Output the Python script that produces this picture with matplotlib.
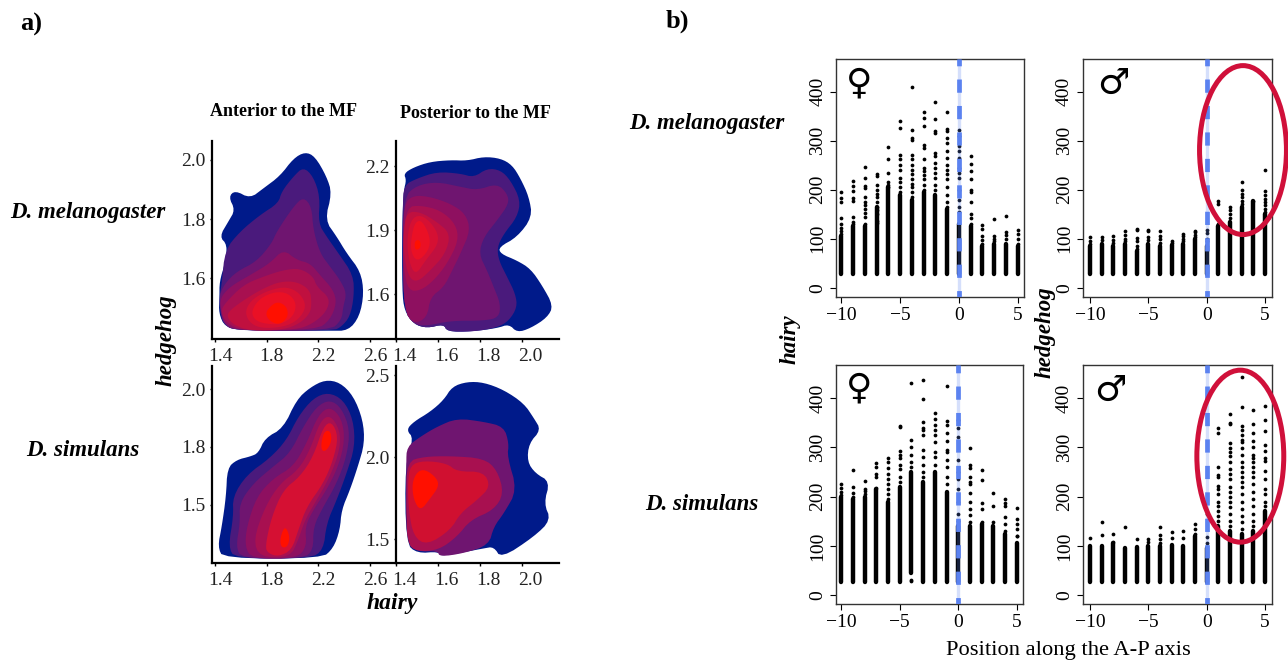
import numpy as np
from matplotlib import pyplot as plt, patches as mpatches, transforms as mtransforms

plt.rcParams["font.family"] = ["Liberation Serif", "DejaVu Sans"]

W, H = 1288, 665

# Panel a: outlines of the density levels, in (hairy, hedgehog) units, outermost first
mel_ant_levels = [
    [(1.434, 1.741), (1.503, 1.792), (1.555, 1.831), (1.505, 1.875), (1.555, 1.897), (1.671, 1.870), (1.774, 1.904),
     (1.903, 1.946), (2.006, 2.005), (2.096, 2.027), (2.173, 2.012), (2.263, 1.944), (2.304, 1.887), (2.25, 1.797),
     (2.341, 1.741), (2.418, 1.685), (2.526, 1.623), (2.552, 1.55), (2.518, 1.471), (2.431, 1.423), (2.289, 1.423),
     (1.619, 1.423), (1.477, 1.435), (1.429, 1.482), (1.434, 1.533), (1.434, 1.589), (1.477, 1.651), (1.495, 1.713)],
    [(1.477, 1.696), (1.593, 1.758), (1.748, 1.814), (1.89, 1.854), (1.915, 1.893), (2.006, 1.944), (2.083, 1.976),
     (2.16, 1.944), (2.212, 1.876), (2.199, 1.786), (2.263, 1.741), (2.354, 1.685), (2.47, 1.611), (2.475, 1.538),
     (2.444, 1.471), (2.379, 1.437), (2.315, 1.423), (1.568, 1.423), (1.47, 1.443), (1.439, 1.482), (1.434, 1.538),
     (1.452, 1.583)],
    [(1.838, 1.718), (1.877, 1.758), (2.006, 1.842), (2.083, 1.875), (2.147, 1.842), (2.16, 1.764), (2.212, 1.685),
     (2.289, 1.64), (2.366, 1.595), (2.418, 1.55), (2.392, 1.505), (2.379, 1.459), (2.289, 1.423), (1.542, 1.423),
     (1.464, 1.448), (1.444, 1.493), (1.434, 1.544), (1.477, 1.583), (1.568, 1.623), (1.722, 1.657)],
    [(1.439, 1.533), (1.516, 1.572), (1.671, 1.611), (1.825, 1.651), (1.928, 1.698), (2.031, 1.662), (2.135, 1.651),
     (2.212, 1.611), (2.315, 1.561), (2.341, 1.516), (2.289, 1.459), (2.186, 1.426), (1.593, 1.423), (1.477, 1.443),
     (1.444, 1.488)],
    [(1.477, 1.516), (1.619, 1.578), (1.774, 1.606), (1.928, 1.628), (2.057, 1.634), (2.16, 1.606), (2.186, 1.572),
     (2.289, 1.533), (2.263, 1.488), (2.16, 1.448), (2.031, 1.426), (1.619, 1.423), (1.49, 1.448), (1.444, 1.488)],
    [(1.516, 1.493), (1.645, 1.533), (1.774, 1.566), (1.903, 1.589), (2.031, 1.589), (2.135, 1.561), (2.147, 1.516),
     (2.135, 1.482), (2.057, 1.448), (1.928, 1.426), (1.671, 1.423), (1.542, 1.443), (1.49, 1.471)],
    [(1.632, 1.493), (1.696, 1.533), (1.825, 1.561), (1.954, 1.572), (2.057, 1.55), (2.109, 1.505), (2.044, 1.459),
     (1.928, 1.435), (1.748, 1.431), (1.658, 1.454)],
    [(1.684, 1.493), (1.748, 1.533), (1.864, 1.555), (1.967, 1.55), (2.031, 1.516), (2.006, 1.471), (1.903, 1.443),
     (1.761, 1.448), (1.696, 1.465)],
    [(1.787, 1.482), (1.838, 1.51), (1.89, 1.521), (1.954, 1.505), (1.967, 1.471), (1.903, 1.443), (1.825, 1.454)],
]
mel_ant_colors = ["#001a8a", "#4a1a7c", "#6f1570", "#8e1060", "#a81050", "#c0103f", "#d51033", "#ea1025", "#ff1000"]

mel_post_levels = [
    [(1.437, 2.165), (1.484, 2.194), (1.563, 2.22), (1.659, 2.228), (1.738, 2.225), (1.817, 2.244), (1.897, 2.236),
     (1.952, 2.205), (1.992, 2.142), (2.032, 2.056), (2.048, 1.961), (1.976, 1.867), (1.889, 1.82), (1.897, 1.789),
     (1.976, 1.757), (2.04, 1.718), (2.095, 1.64), (2.148, 1.545), (2.119, 1.49), (2.04, 1.44), (1.976, 1.42),
     (1.937, 1.459), (1.881, 1.44), (1.754, 1.424), (1.643, 1.424), (1.627, 1.459), (1.548, 1.44), (1.484, 1.459),
     (1.44, 1.522), (1.429, 1.616), (1.429, 1.93), (1.437, 2.087), (1.449, 2.134)],
    [(1.437, 2.11), (1.5, 2.142), (1.595, 2.173), (1.706, 2.165), (1.77, 2.147), (1.833, 2.189), (1.897, 2.181),
     (1.944, 2.134), (1.992, 2.04), (1.976, 1.961), (1.913, 1.883), (1.881, 1.82), (1.889, 1.757), (1.929, 1.679),
     (1.968, 1.6), (1.976, 1.538), (1.937, 1.475), (1.881, 1.443), (1.77, 1.424), (1.643, 1.424), (1.627, 1.459),
     (1.548, 1.44), (1.484, 1.459), (1.44, 1.522), (1.432, 1.773), (1.432, 2.008)],
    [(1.437, 2.056), (1.5, 2.11), (1.595, 2.126), (1.706, 2.103), (1.786, 2.087), (1.881, 2.118), (1.929, 2.071),
     (1.937, 2.024), (1.881, 1.946), (1.817, 1.867), (1.794, 1.789), (1.833, 1.71), (1.865, 1.632), (1.897, 1.553),
     (1.889, 1.49), (1.817, 1.475), (1.659, 1.475), (1.548, 1.451), (1.484, 1.459), (1.44, 1.522), (1.432, 1.773)],
    [(1.437, 2.024), (1.484, 2.063), (1.563, 2.056), (1.659, 2.024), (1.73, 1.977), (1.754, 1.899), (1.706, 1.789),
     (1.667, 1.71), (1.627, 1.632), (1.563, 1.585), (1.548, 1.49), (1.484, 1.459), (1.44, 1.522), (1.432, 1.773)],
    [(1.452, 2.008), (1.516, 2.016), (1.611, 1.993), (1.683, 1.93), (1.698, 1.851), (1.643, 1.742), (1.579, 1.663),
     (1.516, 1.616), (1.46, 1.616), (1.437, 1.71), (1.432, 1.851)],
    [(1.452, 1.985), (1.516, 1.985), (1.595, 1.938), (1.659, 1.883), (1.635, 1.789), (1.563, 1.71), (1.5, 1.655),
     (1.46, 1.679), (1.437, 1.789), (1.437, 1.899)],
    [(1.476, 1.961), (1.532, 1.969), (1.595, 1.899), (1.603, 1.836), (1.54, 1.757), (1.492, 1.687), (1.46, 1.757),
     (1.452, 1.867)],
    [(1.492, 1.938), (1.524, 1.946), (1.563, 1.867), (1.556, 1.804), (1.5, 1.749), (1.468, 1.804), (1.476, 1.883)],
    [(1.488, 1.85), (1.515, 1.855), (1.518, 1.815), (1.49, 1.805)],
]
mel_post_colors = ["#001a8a", "#4a1a7c", "#6f1570", "#8e1060", "#a81050", "#c0103f", "#d51033", "#ea1025", "#ff1000"]

sim_ant_levels = [
    [(1.495, 1.658), (1.568, 1.694), (1.671, 1.708), (1.735, 1.723), (1.787, 1.788), (1.928, 1.831), (2.031, 1.954),
     (2.135, 2.007), (2.251, 2.04), (2.366, 2.029), (2.47, 1.971), (2.544, 1.867), (2.557, 1.766), (2.505, 1.665),
     (2.444, 1.564), (2.379, 1.477), (2.366, 1.39), (2.315, 1.311), (2.225, 1.267), (1.464, 1.267), (1.421, 1.318),
     (1.452, 1.405), (1.485, 1.535)],
    [(1.537, 1.535), (1.645, 1.629), (1.825, 1.701), (1.954, 1.78), (2.044, 1.882), (2.16, 1.961), (2.276, 1.986),
     (2.392, 1.954), (2.47, 1.867), (2.482, 1.751), (2.418, 1.636), (2.341, 1.52), (2.263, 1.419), (2.238, 1.303),
     (2.135, 1.267), (1.555, 1.267), (1.503, 1.318), (1.542, 1.448)],
    [(1.588, 1.506), (1.696, 1.592), (1.851, 1.665), (1.98, 1.723), (2.083, 1.838), (2.186, 1.925), (2.289, 1.954),
     (2.379, 1.918), (2.444, 1.824), (2.418, 1.708), (2.341, 1.592), (2.238, 1.491), (2.16, 1.405), (2.16, 1.303),
     (2.083, 1.267), (1.606, 1.267), (1.562, 1.318), (1.593, 1.419)],
    [(1.645, 1.405), (1.722, 1.535), (1.851, 1.614), (2.006, 1.665), (2.109, 1.766), (2.199, 1.889), (2.289, 1.925),
     (2.379, 1.874), (2.405, 1.78), (2.354, 1.665), (2.263, 1.564), (2.16, 1.477), (2.096, 1.405), (2.109, 1.318),
     (2.031, 1.267), (1.684, 1.267), (1.632, 1.318)],
    [(1.696, 1.347), (1.787, 1.491), (1.903, 1.592), (2.044, 1.65), (2.135, 1.737), (2.212, 1.86), (2.289, 1.889),
     (2.366, 1.824), (2.366, 1.737), (2.289, 1.621), (2.186, 1.52), (2.096, 1.434), (2.044, 1.347), (1.98, 1.272),
     (1.748, 1.272)],
    [(1.787, 1.318), (1.838, 1.448), (1.928, 1.564), (2.057, 1.621), (2.16, 1.708), (2.238, 1.838), (2.302, 1.86),
     (2.354, 1.795), (2.315, 1.694), (2.238, 1.592), (2.109, 1.491), (2.044, 1.39), (1.993, 1.303), (1.89, 1.275),
     (1.812, 1.289)],
    [(2.22, 1.766), (2.246, 1.819), (2.294, 1.819), (2.302, 1.773), (2.263, 1.734), (2.227, 1.731)],
    [(1.903, 1.356), (1.941, 1.41), (1.98, 1.361), (1.959, 1.315), (1.91, 1.315)],
]
sim_ant_colors = ["#001a8a", "#4a1a7c", "#6f1570", "#8e1060", "#a81050", "#d51033", "#ff1000", "#ff1000"]

sim_post_levels = [
    [(1.449, 2.165), (1.484, 2.215), (1.563, 2.276), (1.627, 2.348), (1.667, 2.429), (1.738, 2.459), (1.817, 2.455),
     (1.913, 2.409), (2.008, 2.327), (2.056, 2.236), (2.089, 2.165), (2.032, 2.083), (2.024, 1.972), (2.063, 1.9),
     (2.132, 1.85), (2.103, 1.717), (2.137, 1.616), (2.056, 1.514), (1.9, 1.382), (1.865, 1.453), (1.817, 1.443),
     (1.611, 1.392), (1.603, 1.423), (1.5, 1.413), (1.447, 1.474), (1.443, 1.961), (1.484, 2.114)],
    [(1.452, 2.063), (1.516, 2.124), (1.595, 2.185), (1.69, 2.236), (1.817, 2.215), (1.913, 2.185), (1.937, 2.083),
     (1.929, 2.002), (1.976, 1.799), (1.913, 1.657), (1.865, 1.575), (1.841, 1.463), (1.722, 1.413), (1.608, 1.392),
     (1.598, 1.427), (1.5, 1.423), (1.452, 1.474), (1.448, 1.961)],
    [(1.452, 1.972), (1.532, 2.002), (1.659, 2.006), (1.817, 1.992), (1.881, 1.921), (1.913, 1.778), (1.865, 1.677),
     (1.754, 1.616), (1.69, 1.514), (1.603, 1.433), (1.5, 1.423), (1.452, 1.474), (1.448, 1.738)],
    [(1.468, 1.951), (1.532, 1.978), (1.643, 1.961), (1.69, 1.911), (1.817, 1.911), (1.849, 1.819), (1.786, 1.738),
     (1.706, 1.657), (1.659, 1.555), (1.548, 1.463), (1.484, 1.514), (1.46, 1.677), (1.456, 1.839)],
    [(1.476, 1.839), (1.5, 1.911), (1.54, 1.925), (1.595, 1.87), (1.603, 1.819), (1.563, 1.748), (1.516, 1.671),
     (1.484, 1.738)],
]
sim_post_colors = ["#001a8a", "#6f1570", "#a81050", "#d01030", "#ff1000"]

ant_xticks = [1.4, 1.8, 2.2, 2.6]
post_xticks = [1.4, 1.6, 1.8, 2.0]

# Panel b: position along the axis, top of the solid part of each column and the dots above it
positions = [-10, -9, -8, -7, -6, -5, -4, -3, -2, -1, 0, 1, 2, 3, 4, 5]

fem_mel_solid = [105, 125, 125, 165, 205, 190, 180, 195, 190, 160, 130, 125, 85, 90, 90, 85]
fem_mel_dots = [
    [195, 183, 176, 142, 130, 122, 115, 110],
    [217, 208, 198, 183, 177, 145, 135, 130],
    [246, 224, 208, 204, 186, 175, 168, 160, 152, 145, 130],
    [233, 228, 210, 200, 192, 185, 175, 165, 158, 150, 136, 132],
    [287, 262, 234, 215, 210, 205],
    [341, 326, 270, 262, 250, 240, 225, 215, 205, 195],
    [409, 323, 306, 302, 270, 262, 250, 240, 232, 222, 212, 205, 195, 185],
    [359, 346, 331, 292, 285, 263, 245, 238, 230, 222, 210, 200],
    [380, 344, 320, 315, 275, 268, 255, 245, 235, 225, 210, 200],
    [359, 325, 320, 305, 295, 280, 265, 250, 240, 232, 222, 205, 190, 175, 165],
    [323, 310, 290, 280, 265, 245, 235, 225, 200, 180, 165, 155],
    [269, 252, 238, 222, 200, 195, 175, 150, 142, 130],
    [128, 120, 105, 98, 90],
    [140, 105, 100, 95],
    [146, 113, 108, 100],
    [118, 110, 100, 90],
]

mal_mel_solid = [85, 90, 85, 90, 75, 90, 85, 88, 90, 100, 85, 125, 135, 165, 178, 150]
mal_mel_dots = [
    [103, 95, 90],
    [104, 97],
    [106, 97, 92],
    [116, 108, 100, 95],
    [120, 118, 101, 95, 85, 80],
    [117, 115, 104, 97],
    [115, 105, 100, 92],
    [96, 92],
    [109, 105, 100, 95],
    [116, 113, 108, 104],
    [117, 112, 100, 95],
    [178, 170, 130],
    [164, 158, 150, 142],
    [216, 200, 192, 186, 178, 170],
    [178],
    [241, 198, 190, 182, 175, 168, 160, 155],
]

fem_sim_solid = [200, 195, 200, 215, 190, 220, 250, 230, 250, 210, 140, 140, 145, 140, 125, 105]
fem_sim_base = [27, 27, 27, 27, 27, 27, 45, 27, 27, 27, 27, 27, 27, 27, 27, 27]
fem_sim_dots = [
    [226, 218, 210, 204],
    [254, 220, 207, 200],
    [231, 215, 212, 205],
    [268, 260, 245, 240, 218],
    [278, 270, 258, 245, 235, 225, 215, 205, 195],
    [343, 342, 292, 285, 278, 265, 255, 240, 230],
    [431, 314, 300, 285, 270, 260, 30, 28],
    [436, 399, 352, 340, 335, 325, 295, 280, 265, 250, 240],
    [370, 358, 345, 335, 325, 310, 290, 280, 265],
    [424, 354, 345, 330, 312, 295, 290, 275, 260, 240, 225],
    [355, 340, 320, 275, 250, 235, 215, 190, 165, 150],
    [299, 265, 258, 240, 230, 225, 208, 190, 175, 162, 148],
    [253, 234, 187, 175, 148],
    [207, 180, 148],
    [195, 187, 180, 158, 145, 130],
    [176, 155, 145, 135, 120, 119],
]

mal_sim_solid = [100, 100, 105, 95, 97, 100, 100, 102, 100, 120, 95, 140, 130, 125, 130, 170]
mal_sim_dots = [
    [115],
    [149, 123],
    [124, 108],
    [139],
    [113],
    [113, 107],
    [139, 122, 113, 106],
    [129, 115],
    [131, 115],
    [145, 135, 125],
    [165, 118, 105],
    [340, 329, 260, 243, 240, 222, 215, 205, 190, 180, 170, 160, 150],
    [368, 350, 347, 308, 298, 290, 282, 270, 255, 245, 235, 220, 210, 200, 190, 178, 165, 150, 140],
    [443, 381, 343, 335, 325, 315, 310, 298, 285, 270, 260, 250, 240, 230, 220, 205, 190, 175, 160, 148, 135],
    [376, 347, 328, 312, 300, 285, 278, 270, 260, 250, 240, 225, 210, 195, 180, 165, 150, 140],
    [383, 356, 333, 305, 293, 278, 272, 252, 235, 215, 205, 190, 180],
]

y_ticks_b = [0, 100, 200, 300, 400]
x_ticks_b = [-10, -5, 0, 5]


def add_ax(fig, left, top, right, bottom):
    return fig.add_axes([left / W, 1 - bottom / H, (right - left) / W, (bottom - top) / H])


def smooth(points, rounds=2):
    pts = np.array(points, dtype=float)
    for _ in range(rounds):
        nxt = np.roll(pts, -1, axis=0)
        pts = np.column_stack([0.75 * pts + 0.25 * nxt, 0.25 * pts + 0.75 * nxt]).reshape(-1, 2)
    return pts


def density_panel(ax, levels, level_colors, xlim, ylim, xticks, yticks, ylabels, shift):
    for outline, color in zip(levels, level_colors):
        pts = smooth(outline)
        ax.fill(pts[:, 0], pts[:, 1], color=color, linewidth=0)
    ax.set_xlim(xlim)
    ax.set_ylim(ylim)
    ax.spines["top"].set_visible(False)
    ax.spines["right"].set_visible(False)
    ax.spines["left"].set_linewidth(1.6)
    ax.spines["bottom"].set_linewidth(1.6)
    ax.patch.set_alpha(0)
    ax.set_xticks(xticks)
    ax.set_xticklabels([f"{t:.1f}" for t in xticks], fontsize=14, color="#222222")
    ax.set_yticks(yticks)
    ax.set_yticklabels(ylabels, fontsize=14, color="#222222")
    ax.tick_params(axis="x", length=2.5, width=1, pad=4)
    ax.tick_params(axis="y", length=1.5, width=1, pad=3)
    # the labels sit a little to the right of their ticks in the original
    offset = mtransforms.ScaledTranslation(shift / 100, 0, ax.figure.dpi_scale_trans)
    for lab in ax.get_xticklabels():
        lab.set_transform(lab.get_transform() + offset)


def column_panel(ax, solid, dots, xlim, ylim, base=None, symbol=None, symbol_at=None, ring=None):
    if base is None:
        base = [27] * len(positions)
    ax.vlines(positions, base, solid, color="black", linewidth=3.2, capstyle="round", zorder=2)
    for pos, vals in zip(positions, dots):
        ax.plot([pos] * len(vals), vals, "o", color="black", markersize=2.7, markeredgewidth=0, zorder=2)
    ax.axvline(0, color="#5b82f0", alpha=0.25, linewidth=2.4, zorder=3)
    ax.axvline(0, color="#5b82f0", linewidth=3.4, linestyle=(1.44, (2.8, 2.8)), dash_capstyle="butt", zorder=4)
    ax.set_xlim(xlim)
    ax.set_ylim(ylim)
    ax.set_xticks(x_ticks_b)
    ax.set_yticks(y_ticks_b)
    ax.tick_params(axis="x", length=4, width=0.8, labelsize=14, pad=3)
    ax.tick_params(axis="y", length=4, width=0.8, labelsize=14, pad=3)
    for lab in ax.get_yticklabels():
        lab.set_rotation(90)
        lab.set_va("center")
    for side in ax.spines.values():
        side.set_linewidth(1)
        side.set_color("#333333")
    ax.text(symbol_at[0], symbol_at[1], symbol, family="DejaVu Sans", fontsize=26, ha="center", va="center", zorder=5)
    if ring is not None:
        ax.add_patch(mpatches.Ellipse(ring[:2], ring[2], ring[3], fill=False, edgecolor="#d0103a",
                                      linewidth=3.6, clip_on=False, zorder=6))


def label(fig, x, y, text, **kwargs):
    fig.text(x / W, 1 - y / H, text, ha="center", va="center", **kwargs)


fig = plt.figure(figsize=(W / 100, H / 100), dpi=100)

# Panel a
ax = add_ax(fig, 211.7, 140.7, 396, 339.3)
density_panel(ax, mel_ant_levels, mel_ant_colors, (1.374, 2.80), (1.394, 2.065), ant_xticks,
              [1.6, 1.8, 2.0], ["1.6", "1.8", "2.0"], 5)
ax = add_ax(fig, 396, 140.7, 559, 339.3)
density_panel(ax, mel_post_levels, mel_post_colors, (1.40, 2.175), (1.388, 2.319), post_xticks,
              [1.6, 1.9, 2.2], ["1.6", "1.9", "2.2"], 8)
ax = add_ax(fig, 211.7, 366, 396, 563.3)
density_panel(ax, sim_ant_levels, sim_ant_colors, (1.374, 2.80), (1.246, 2.10), ant_xticks,
              [1.5, 1.75, 2.0], ["1.5", "1.8", "2.0"], 5)
ax = add_ax(fig, 396, 366, 559, 563.3)
density_panel(ax, sim_post_levels, sim_post_colors, (1.40, 2.175), (1.352, 2.555), post_xticks,
              [1.5, 2.0, 2.5], ["1.5", "2.0", "2.5"], 8)

# Panel b
ax = add_ax(fig, 836, 59, 1024, 297)
column_panel(ax, fem_mel_solid, fem_mel_dots, (-10.45, 5.54), (-19, 467), symbol="♀", symbol_at=(-8.5, 416))
ax = add_ax(fig, 1082.7, 59, 1271.7, 297)
column_panel(ax, mal_mel_solid, mal_mel_dots, (-10.63, 5.57), (-19, 467), symbol="♂", symbol_at=(-8.0, 417),
             ring=(3.11, 281, 7.45, 345))
ax = add_ax(fig, 836, 365, 1023, 604)
column_panel(ax, fem_sim_solid, fem_sim_dots, (-10.45, 5.54), (-18, 467), base=fem_sim_base, symbol="♀",
             symbol_at=(-8.5, 419))
ax = add_ax(fig, 1082.7, 365, 1271.7, 604)
column_panel(ax, mal_sim_solid, mal_sim_dots, (-10.63, 5.57), (-18, 467), symbol="♂", symbol_at=(-8.3, 415),
             ring=(2.88, 282, 7.45, 349))

# Text
label(fig, 31, 24, "a)", fontsize=19, fontweight="bold")
label(fig, 677, 21, "b)", fontsize=19, fontweight="bold")
label(fig, 284, 112, "Anterior to the MF", fontsize=13, fontweight="bold")
label(fig, 475, 113, "Posterior to the MF", fontsize=13, fontweight="bold")
label(fig, 88, 212, "D. melanogaster", fontsize=16.5, fontweight="bold", style="italic")
label(fig, 83, 450, "D. simulans", fontsize=16.5, fontweight="bold", style="italic")
label(fig, 707, 123, "D. melanogaster", fontsize=16.5, fontweight="bold", style="italic")
label(fig, 702, 505, "D. simulans", fontsize=16.5, fontweight="bold", style="italic")
label(fig, 166, 340, "hedgehog", fontsize=16.5, fontweight="bold", style="italic", rotation=90)
label(fig, 392, 603, "hairy", fontsize=17, fontweight="bold", style="italic")
label(fig, 790, 339, "hairy", fontsize=16.5, fontweight="bold", style="italic", rotation=90)
label(fig, 1045, 332, "hedgehog", fontsize=16.5, fontweight="bold", style="italic", rotation=90)
label(fig, 1068, 650, "Position along the A-P axis", fontsize=16.2)

fig.savefig("out.png", dpi=100)
